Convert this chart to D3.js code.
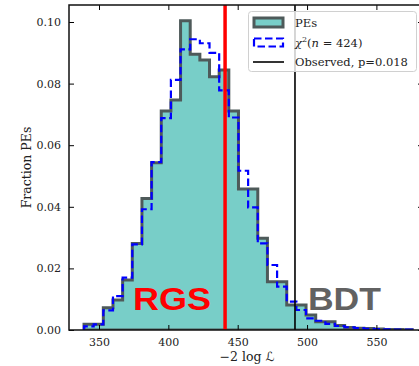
<!DOCTYPE html>
<html><head><meta charset="utf-8">
<script src="https://cdn.jsdelivr.net/npm/d3@7"></script>
<style>html,body{margin:0;padding:0;background:#fff;overflow:hidden}</style>
</head><body>
<svg id="c" width="419" height="366"></svg>
<script>
// ---- data ----
const binEdges = [339.20,346.16,353.12,360.08,367.04,374.00,380.96,387.92,394.88,401.84,408.80,415.76,422.72,429.68,436.64,443.60,450.56,457.52,464.48,471.44,478.40,485.36,492.32,499.28,506.24,513.20,520.16,527.12,534.08,541.04,548.00,554.96,561.92,568.88,575.84];
const pesValues = [0.0019,0.0019,0.0072,0.0097,0.0162,0.0281,0.0427,0.0543,0.0711,0.0747,0.1004,0.0895,0.0877,0.0822,0.0844,0.0711,0.0458,0.0458,0.0298,0.0157,0.0157,0.0081,0.0081,0.0049,0.0027,0.0027,0.0015,0.0008,0.0006,0.0005,0.0003,0.0002,0.0002,0.0001];
const chi2Values = [0.0012,0.0018,0.0064,0.0110,0.0170,0.0278,0.0392,0.0545,0.0688,0.0812,0.0911,0.0944,0.0931,0.0900,0.0778,0.0690,0.0517,0.0398,0.0281,0.0211,0.0141,0.0092,0.0065,0.0038,0.0030,0.0020,0.0013,0.0009,0.0006,0.0004,0.0003,0.0002,0.0001,0.0001];
const observedValue = 491.3;
const rgsValue = 440.9;
const xTicks = [350,400,450,500,550];
const yTicks = [0.00,0.02,0.04,0.06,0.08,0.10];
const legendLabels = ["PEs","χ2(n = 424)","Observed, p=0.018"];
const xLabelParts = ["−2 log ", "ℒ"];
const yLabel = "Fraction PEs";

// ---- layout ----
const L = 69, R = 423, T = 5, B = 330;
const svg = d3.select("#c");
const x = d3.scaleLinear().domain([328.37, 583.6]).range([L, R]);
const y = d3.scaleLinear().domain([0, 0.10552]).range([B, T]);
const serif = "'DejaVu Serif', serif";

function stepPoints(vals) {
  const pts = [[binEdges[0], 0]];
  vals.forEach((v, i) => { pts.push([binEdges[i], v]); pts.push([binEdges[i + 1], v]); });
  pts.push([binEdges[binEdges.length - 1], 0]);
  return pts;
}
const line = d3.line().x(d => x(d[0])).y(d => y(d[1]));

svg.append("clipPath").attr("id", "pc").append("rect")
  .attr("x", L).attr("y", T).attr("width", R - L).attr("height", B - T);
const plot = svg.append("g").attr("clip-path", "url(#pc)");

// PEs stepfilled
plot.append("path").attr("d", line(stepPoints(pesValues)) + "Z")
  .attr("fill", "#78cec8").attr("stroke", "#4e5a5a").attr("stroke-width", 3)
  .attr("stroke-linejoin", "miter");
// chi2 dashed step
plot.append("path").attr("d", line(stepPoints(chi2Values)))
  .attr("fill", "none").attr("stroke", "#0000ff").attr("stroke-width", 2.2)
  .attr("stroke-dasharray", "7.5,3.5");
// observed line
plot.append("line").attr("x1", x(observedValue)).attr("x2", x(observedValue))
  .attr("y1", T).attr("y2", B).attr("stroke", "#000").attr("stroke-width", 1.6);
// RGS red line
plot.append("line").attr("x1", x(rgsValue)).attr("x2", x(rgsValue))
  .attr("y1", T).attr("y2", B).attr("stroke", "#ff0000").attr("stroke-width", 3.5);

// axes
const axB = d3.axisBottom(x).tickValues(xTicks).tickSize(-5).tickPadding(8).tickFormat(d3.format("d"));
const axT = d3.axisTop(x).tickValues(xTicks).tickSize(-5).tickFormat("");
const axL = d3.axisLeft(y).tickValues(yTicks).tickSize(-5).tickPadding(8).tickFormat(d3.format(".2f"));
const axR = d3.axisRight(y).tickValues(yTicks).tickSize(-5).tickFormat("");
function style(g) {
  g.select(".domain").remove();
  g.selectAll(".tick line").attr("stroke", "#000").attr("stroke-width", 1);
  g.selectAll("text").attr("font-family", serif).attr("font-size", 11).attr("fill", "#222");
}
svg.append("g").attr("transform", `translate(0,${B})`).call(axB).call(style);
svg.append("g").attr("transform", `translate(0,${T})`).call(axT).call(style);
svg.append("g").attr("transform", `translate(${L},0)`).call(axL).call(style);
svg.append("g").attr("transform", `translate(${R},0)`).call(axR).call(style);
svg.append("rect").attr("x", L).attr("y", T).attr("width", R - L).attr("height", B - T)
  .attr("fill", "none").attr("stroke", "#111").attr("stroke-width", 1.5);

// axis labels
const xl = svg.append("text").attr("x", (L + R) / 2 + 1).attr("y", 361).attr("text-anchor", "middle")
  .attr("font-family", serif).attr("font-size", 12.5).attr("fill", "#222");
xl.append("tspan").text(xLabelParts[0]);
xl.append("tspan").attr("font-family", "'DejaVu Sans', sans-serif").attr("font-style", "italic").text(xLabelParts[1]);
svg.append("text").attr("transform", `translate(31,${(T + B) / 2}) rotate(-90)`)
  .attr("text-anchor", "middle").attr("font-family", serif).attr("font-size", 12.5)
  .attr("fill", "#222").text(yLabel);

// annotations
svg.append("text").attr("x", x(rgsValue) - 92).attr("y", 309.5)
  .attr("font-family", "'Liberation Sans', Arial, sans-serif").attr("font-weight", "bold")
  .attr("font-size", 31).attr("fill", "#ff0000")
  .attr("textLength", 78).attr("lengthAdjust", "spacingAndGlyphs").text("RGS");
svg.append("text").attr("x", x(observedValue) + 13).attr("y", 309.5)
  .attr("font-family", "'Liberation Sans', Arial, sans-serif").attr("font-weight", "bold")
  .attr("font-size", 32).attr("fill", "#626262")
  .attr("textLength", 73).attr("lengthAdjust", "spacingAndGlyphs").text("BDT");

// legend
const lg = svg.append("g");
lg.append("rect").attr("x", 248.5).attr("y", 11.5).attr("width", 168).attr("height", 60)
  .attr("rx", 3).attr("fill", "#fff").attr("fill-opacity", 0.8)
  .attr("stroke", "#d0d0d0").attr("stroke-width", 1);
const rowY = [22.5, 42.5, 62];
lg.append("rect").attr("x", 254).attr("y", rowY[0] - 4.5).attr("width", 29).attr("height", 9)
  .attr("fill", "#78cec8").attr("stroke", "#4e5a5a").attr("stroke-width", 3);
lg.append("rect").attr("x", 254).attr("y", rowY[1] - 4).attr("width", 29).attr("height", 8)
  .attr("fill", "none").attr("stroke", "#0000ff").attr("stroke-width", 2.2)
  .attr("stroke-dasharray", "7.5,3.5");
lg.append("line").attr("x1", 253).attr("x2", 284).attr("y1", rowY[2]).attr("y2", rowY[2])
  .attr("stroke", "#000").attr("stroke-width", 1.6);
const tx = 295;
lg.append("text").attr("x", tx).attr("y", rowY[0] + 4).attr("font-family", serif)
  .attr("font-size", 11.5).attr("fill", "#222").text(legendLabels[0]);
const t2 = lg.append("text").attr("x", tx).attr("y", rowY[1] + 4).attr("font-family", serif)
  .attr("font-size", 11.5).attr("fill", "#222");
t2.append("tspan").attr("font-style", "italic").text("χ");
t2.append("tspan").attr("font-size", 8).attr("dy", -5).text("2");
t2.append("tspan").attr("dy", 5).text("(");
t2.append("tspan").attr("font-style", "italic").text("n");
t2.append("tspan").text(" = 424)");
lg.append("text").attr("x", tx).attr("y", rowY[2] + 4).attr("font-family", serif)
  .attr("font-size", 11.5).attr("fill", "#222").text(legendLabels[2]);
</script>
</body></html>
